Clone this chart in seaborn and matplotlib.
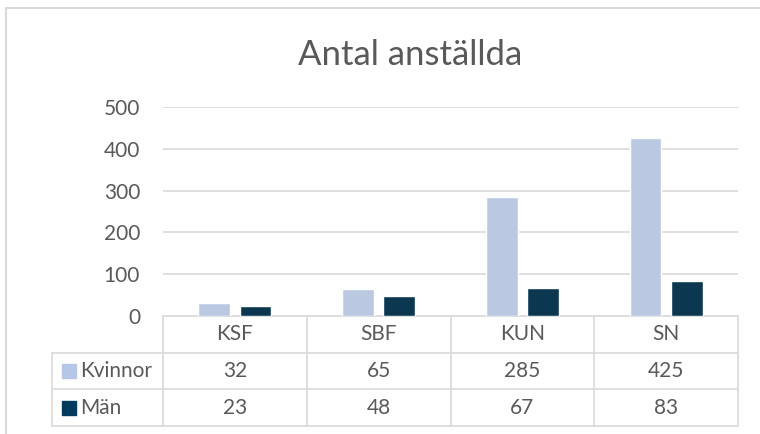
import pandas as pd
import matplotlib.pyplot as plt
import matplotlib.transforms as mtransforms
from matplotlib.patches import Rectangle
import seaborn as sns

# --- data ---
categories = ['KSF', 'SBF', 'KUN', 'SN']
kvinnor = [32, 65, 285, 425]
man = [23, 48, 67, 83]
series_names = ['Kvinnor', 'Män']
colors = ['#B4C7E7', '#003A5D']

df = pd.DataFrame({
    'avd': categories * 2,
    'antal': kvinnor + man,
    'kon': [series_names[0]] * len(categories) + [series_names[1]] * len(categories),
})

sns.set_theme(style="white")
plt.rcParams['font.family'] = ['Lato', 'DejaVu Sans']
text_col = '#595959'
grid_col = '#D9D9D9'
fs = 15

fig = plt.figure(figsize=(7.6, 4.34), dpi=100)
ax = fig.add_axes([163 / 760, 1 - 316 / 434, 575 / 760, 209 / 434])

sns.barplot(data=df, x='avd', y='antal', hue='kon', palette=colors,
            width=0.572, gap=0.23, ax=ax, legend=False, zorder=3)

ax.set_ylim(0, 500)
ax.set_xlim(-0.5, len(categories) - 0.5)
ax.set_yticks(range(0, 501, 100))
ax.yaxis.grid(True, color=grid_col, linewidth=1.2, zorder=0)
ax.set_axisbelow(True)
for s in ax.spines.values():
    s.set_visible(False)
ax.tick_params(axis='y', length=0, pad=16.5, labelsize=fs, labelcolor=text_col)
ax.set_xticks([])
ax.set_xlabel('')
ax.set_ylabel('')

fig.text(410 / 760, 1 - 55 / 434, 'Antal anställda', ha='center', va='center',
         fontsize=25, color=text_col)

# --- data table under the axis ---
tr = mtransforms.blended_transform_factory(ax.transData, ax.transAxes)
h = 36.7 / 209
x0 = -0.5
x1 = len(categories) - 0.5
xl = x0 - 111 / 143.75
line_kw = dict(color=grid_col, lw=1.2, transform=tr, clip_on=False)

ax.plot([x0, x1], [0, 0], **line_kw)
for r in range(1, 4):
    ax.plot([xl, x1], [-r * h, -r * h], **line_kw)
for i in range(len(categories) + 1):
    ax.plot([x0 + i, x0 + i], [0, -3 * h], **line_kw)
ax.plot([xl, xl], [-h, -3 * h], **line_kw)

for i, c in enumerate(categories):
    ax.text(i, -0.5 * h, c, transform=tr, ha='center', va='center',
            fontsize=fs, color=text_col)
for r, vals in enumerate([kvinnor, man]):
    yc = -(r + 1.5) * h
    for i, v in enumerate(vals):
        ax.text(i, yc, str(v), transform=tr, ha='center', va='center',
                fontsize=fs, color=text_col)
    ax.plot([xl + 16.5 / 143.75], [yc], marker='s', markersize=10,
            color=colors[r], transform=tr, clip_on=False, lw=0)
    ax.text(xl + 28 / 143.75, yc, series_names[r], transform=tr, ha='left',
            va='center', fontsize=fs, color=text_col)

# outer chart frame (only top/left visible)
fig.patches.append(Rectangle((6 / 760, -0.5), 1.5, 1.5 - 8 / 434,
                             transform=fig.transFigure, fill=False,
                             edgecolor=grid_col, lw=1.5))

fig.savefig('out.png', dpi=100)
